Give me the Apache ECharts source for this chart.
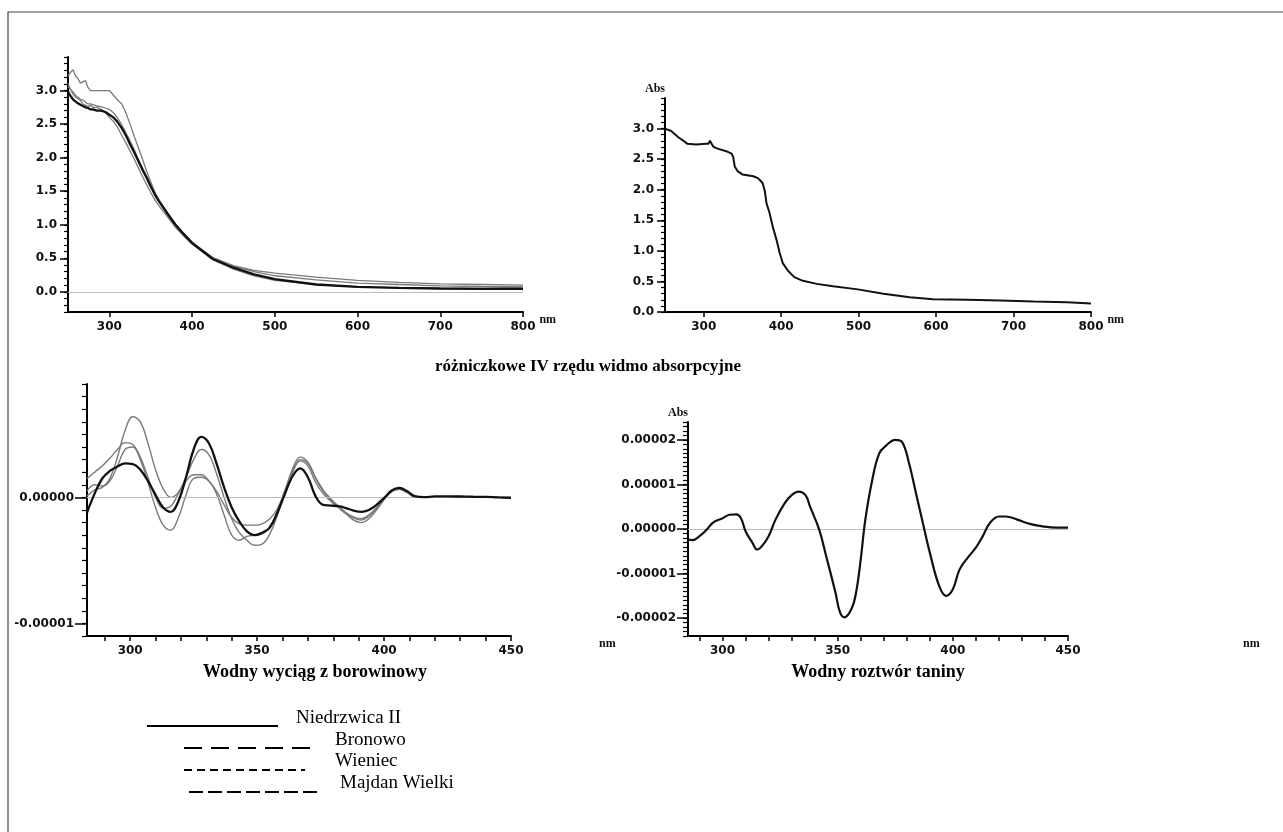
<!DOCTYPE html>
<html><head><meta charset="utf-8">
<script src="https://cdn.jsdelivr.net/npm/echarts@6/dist/echarts.min.js"></script>
<style>html,body{margin:0;padding:0;background:#fff}#c{width:1283px;height:832px}</style>
</head><body><div id="c"></div>
<script>
// ---------- data ----------
const seriesNames = ['Niedrzwica II', 'Bronowo', 'Wieniec', 'Majdan Wielki'];

// Panel A: absorption spectra of peat extracts (nm / Abs)
const wlA = [250,253,256,259,262,265,268,271,274,277, 280,285,290,295,300,305,310,315,320,325, 330,335,340,345,350,355,360,370,380,390, 400,425,450,475,500,550,600,650,700,750, 800];
const absA_Niedrzwica = [2.99,2.92,2.87,2.84,2.81,2.79,2.77,2.75,2.74,2.72, 2.72,2.70,2.70,2.68,2.64,2.60,2.53,2.44,2.33,2.20, 2.08,1.95,1.82,1.70,1.57,1.45,1.35,1.17,1.00,0.86, 0.73,0.49,0.36,0.26,0.19,0.11,0.075,0.06,0.05,0.045, 0.045];
const absA_Bronowo = [3.22,3.27,3.31,3.22,3.18,3.11,3.13,3.15,3.05,3.00, 3.00,3.00,3.00,3.00,3.00,2.93,2.86,2.80,2.67,2.50, 2.32,2.15,1.98,1.80,1.64,1.49,1.37,1.15,0.97,0.84, 0.72,0.51,0.39,0.32,0.28,0.22,0.17,0.14,0.12,0.11, 0.10];
const absA_Wieniec = [3.06,3.02,2.98,2.93,2.90,2.87,2.86,2.83,2.80,2.80, 2.79,2.77,2.76,2.74,2.72,2.67,2.59,2.49,2.37,2.25, 2.12,1.98,1.85,1.73,1.60,1.47,1.37,1.19,1.01,0.87, 0.74,0.51,0.38,0.30,0.24,0.18,0.13,0.11,0.09,0.08, 0.075];
const absA_Majdan = [3.11,3.02,2.95,2.90,2.88,2.85,2.80,2.78,2.76,2.78, 2.75,2.75,2.72,2.68,2.60,2.54,2.45,2.33,2.22,2.10, 1.98,1.85,1.72,1.60,1.48,1.37,1.28,1.12,0.96,0.83, 0.71,0.48,0.34,0.24,0.17,0.11,0.075,0.06,0.05,0.05, 0.07];

// Panel B: absorption spectrum of tannin solution
const wlB = [250,258,268,275,279,290,303,306,308,310, 312,316,329,336,338,340,344,350,364,370, 376,379,381,385,389,394,398,402,409,417, 428,446,467,499,532,566,596,640,683,726, 769,800];
const absB_Tannin = [3.0,2.96,2.85,2.79,2.75,2.74,2.75,2.75,2.8,2.77, 2.71,2.68,2.63,2.59,2.54,2.38,2.3,2.25,2.22,2.19, 2.11,1.97,1.78,1.62,1.4,1.18,0.97,0.8,0.67,0.57, 0.51,0.46,0.42,0.37,0.3,0.24,0.21,0.2,0.19,0.17, 0.16,0.14];

// Panel C: 4th-derivative spectra of peat extracts (values in 1e-6 Abs)
const wlC = [283,286,289,292,295,298,301,304,307,310, 313,316,319,322,325,328,331,334,337,340, 343,346,349,352,355,358,361,364,367,370, 373,376,379,382,385,388,391,394,397,400, 403,406,409,412,416,420,425,430,435,440, 445,450];
const d4C_Niedrzwica = [-1.2,0.3,1.5,2.1,2.45,2.7,2.65,2.2,1.3,0.2, -0.8,-1.15,-0.3,1.6,3.8,4.8,4.3,2.7,0.8,-0.8, -1.9,-2.7,-3.0,-2.8,-2.4,-1.2,0.3,1.7,2.3,1.6, 0.1,-0.6,-0.65,-0.7,-0.85,-1.05,-1.15,-1.0,-0.6,-0.05, 0.55,0.75,0.5,0.1,0.02,0.08,0.08,0.07,0.05,0.04, 0.0,-0.03];
const d4C_Bronowo = [0.1,0.6,0.8,1.5,3.2,5.3,6.4,6.0,4.3,2.2, 0.7,0.0,0.4,1.6,3.0,3.8,3.4,1.9,0.0,-1.7, -2.8,-3.4,-3.8,-3.7,-2.9,-1.4,0.5,2.3,3.2,2.8, 1.6,0.6,-0.1,-0.7,-1.3,-1.8,-2.0,-1.7,-1.0,-0.2, 0.45,0.65,0.4,0.05,0.02,0.05,0.05,0.04,0.03,0.02, 0.0,0.0];
const d4C_Wieniec = [1.5,2.0,2.5,3.1,3.8,4.35,4.2,3.2,1.6,0.0, -0.85,-0.7,0.3,1.3,1.8,1.8,1.3,0.5,-0.6,-1.6, -2.1,-2.2,-2.2,-2.1,-1.7,-0.9,0.6,2.1,3.0,2.7, 1.5,0.5,-0.2,-0.7,-1.2,-1.55,-1.7,-1.4,-0.8,-0.1, 0.5,0.7,0.45,0.05,0.02,0.05,0.05,0.04,0.03,0.02, 0.0,0.0];
const d4C_Majdan = [0.5,1.0,0.9,1.3,2.5,3.8,4.0,3.0,1.2,-0.8, -2.2,-2.6,-1.6,0.2,1.5,1.6,1.3,0.3,-1.4,-3.0, -3.4,-3.1,-3.0,-2.9,-2.3,-1.1,0.5,2.0,2.9,2.5, 1.2,0.3,-0.3,-0.8,-1.3,-1.65,-1.8,-1.5,-0.9,-0.15, 0.5,0.65,0.4,0.05,0.02,0.05,0.05,0.04,0.03,0.02, 0.0,0.0];

// Panel D: 4th-derivative spectrum of tannin solution (values in 1e-6 Abs)
const wlD = [285,287,290,293,296,300,303,306,308,310, 313,315,317,320,323,327,330,333,336,338, 342,345,349,351,353,356,358,360,362,365, 368,371,375,378,381,384,387,390,394,397, 400,403,407,410,413,416,420,423,428,433, 439,445,450];
const d4D_Tannin = [-2.4,-2.5,-1.6,-0.2,1.5,2.4,3.2,3.3,2.4,-0.5, -3.1,-4.6,-3.9,-1.6,2.1,5.8,7.6,8.4,7.6,5.0, -0.2,-6.1,-14.2,-18.7,-19.8,-17.9,-14.2,-6.8,2.1,11.0, 16.9,18.7,20.0,19.5,14.7,8.0,1.3,-5.3,-12.7,-15.0, -13.5,-9.0,-6.1,-4.2,-1.6,1.3,2.8,2.8,2.1,1.2, 0.6,0.3,0.3];

// tick positions / labels
const ticksA_x = [300,400,500,600,700,800];
const ticksA_y = [0,0.5,1.0,1.5,2.0,2.5,3.0];
const ticksC_x = [290,300,310,320,330,340,350,360,370,380,390,400,410,420,430,440,450];
const labelsC_x = [300,350,400,450];
const labelsC_y = [-10,0];
const labelsD_y = [-20,-10,0,10,20];

const mainTitle = 'różniczkowe IV rzędu widmo absorpcyjne';
const subTitleLeft = 'Wodny wyciąg z borowinowy';
const subTitleRight = 'Wodny roztwór taniny';

// ---------- helpers ----------
const pairs = (xs, ys) => xs.map((x, i) => [x, ys[i]]);
const lblFont = {fontFamily: 'DejaVu Sans', fontWeight: 'bold', fontSize: 12, color: '#111'};
const nameFont = {fontFamily: 'Liberation Serif', fontWeight: 'bold', fontSize: 12, color: '#111'};

function xAx(grid, min, max, ticks, labels, fmt, nameGap) {
  return {
    type: 'value', gridIndex: grid, min, max, position: 'bottom',
    axisLine: {show: true, onZero: false, lineStyle: {color: '#000', width: 2}},
    axisTick: {show: true, customValues: ticks, length: 5, lineStyle: {color: '#000', width: 1.5}},
    axisLabel: Object.assign({show: true, customValues: labels, margin: 9, formatter: fmt}, lblFont),
    splitLine: {show: false},
    name: 'nm', nameLocation: 'end', nameGap,
    nameTextStyle: Object.assign({verticalAlign: 'top', padding: [2, 0, 0, 0]}, nameFont)
  };
}
function yMajor(grid, min, max, labels, fmt, tickLen, margin, abs) {
  return {
    type: 'value', gridIndex: grid, min, max, position: 'left',
    axisLine: {show: true, onZero: false, lineStyle: {color: '#000', width: 2}},
    axisTick: {show: true, customValues: labels, length: tickLen, lineStyle: {color: '#000', width: 1.5}},
    axisLabel: Object.assign({show: true, customValues: labels, margin, formatter: fmt}, lblFont),
    splitLine: {show: false},
    name: abs ? 'Abs' : '', nameLocation: 'end', nameGap: 3,
    nameTextStyle: Object.assign({align: 'right'}, nameFont)
  };
}
function yMinor(grid, min, max, step, len) {
  return {
    type: 'value', gridIndex: grid, min, max, interval: step, position: 'left', offset: 0,
    axisLine: {show: false, onZero: false},
    axisTick: {show: true, length: len, lineStyle: {color: '#000', width: 1.2}},
    axisLabel: {show: false}, splitLine: {show: false}
  };
}
const zeroLine = {silent: true, symbol: 'none', label: {show: false},
  lineStyle: {color: '#bdbdbd', width: 1.2, type: 'solid'}, data: [{yAxis: 0}]};

function line(name, xi, yi, xs, ys, color, width, smooth, mark) {
  const s = {name, type: 'line', xAxisIndex: xi, yAxisIndex: yi, data: pairs(xs, ys),
    showSymbol: false, symbol: 'none', smooth, animation: false,
    lineStyle: {color, width}, z: color === '#111' ? 5 : 3};
  if (mark) s.markLine = zeroLine;
  return s;
}
const GRAY = '#7a7a7a', BLACK = '#111';

const fmt1 = v => v.toFixed(1);
const fmtE = v => (v * 1e-6).toFixed(5);
const fmtI = v => String(v);

const option = {
  backgroundColor: '#fff',
  animation: false,
  grid: [
    {left: 68, top: 57, width: 455, height: 255, outerBoundsMode: 'none'},
    {left: 665, top: 98, width: 426, height: 214, outerBoundsMode: 'none'},
    {left: 87, top: 384, width: 424, height: 252, outerBoundsMode: 'none'},
    {left: 688, top: 422, width: 380, height: 214, outerBoundsMode: 'none'}
  ],
  xAxis: [
    xAx(0, 250, 800, ticksA_x, ticksA_x, fmtI, 16),
    xAx(1, 250, 800, ticksA_x, ticksA_x, fmtI, 14),
    xAx(2, 283, 450, ticksC_x, labelsC_x, fmtI, 88),
    xAx(3, 285, 450, ticksC_x, labelsC_x, fmtI, 175)
  ],
  yAxis: [
    yMajor(0, -0.3, 3.5, ticksA_y, fmt1, 8, 11, false),
    yMinor(0, -0.3, 3.5, 0.1, 4),
    yMajor(1, 0, 3.5, ticksA_y, fmt1, 8, 11, true),
    yMinor(1, 0, 3.5, 0.1, 4),
    yMajor(2, -11, 9, labelsC_y, fmtE, 12, 13, false),
    yMinor(2, -11, 9, 1, 5),
    yMajor(3, -24, 24, labelsD_y, fmtE, 11, 12, true),
    yMinor(3, -24, 24, 1, 5)
  ],
  series: [
    line(seriesNames[1], 0, 0, wlA, absA_Bronowo, GRAY, 1.3, false, true),
    line(seriesNames[2], 0, 0, wlA, absA_Wieniec, GRAY, 1.3, false, false),
    line(seriesNames[3], 0, 0, wlA, absA_Majdan, GRAY, 1.3, false, false),
    line(seriesNames[0], 0, 0, wlA, absA_Niedrzwica, BLACK, 2.3, false, false),
    line('tanina', 1, 2, wlB, absB_Tannin, BLACK, 2, false, false),
    line(seriesNames[1], 2, 4, wlC, d4C_Bronowo, GRAY, 1.4, 0.4, true),
    line(seriesNames[2], 2, 4, wlC, d4C_Wieniec, GRAY, 1.4, 0.4, false),
    line(seriesNames[3], 2, 4, wlC, d4C_Majdan, GRAY, 1.4, 0.4, false),
    line(seriesNames[0], 2, 4, wlC, d4C_Niedrzwica, BLACK, 2.3, 0.4, false),
    line('tanina', 3, 6, wlD, d4D_Tannin, BLACK, 2.2, 0.4, true)
  ],
  graphic: [
    {type: 'rect', shape: {x: 8, y: 12, width: 1400, height: 1000}, style: {fill: 'none', stroke: '#444', lineWidth: 1.2}, silent: true},
    {type: 'text', x: 588, y: 367, style: {text: mainTitle, align: 'center', verticalAlign: 'middle', font: 'bold 17px "Liberation Serif"', fill: '#000'}},
    {type: 'text', x: 315, y: 672, style: {text: subTitleLeft, align: 'center', verticalAlign: 'middle', font: 'bold 18px "Liberation Serif"', fill: '#000'}},
    {type: 'text', x: 878, y: 672, style: {text: subTitleRight, align: 'center', verticalAlign: 'middle', font: 'bold 18px "Liberation Serif"', fill: '#000'}},
    {type: 'line', shape: {x1: 147, y1: 726, x2: 278, y2: 726}, style: {stroke: '#000', lineWidth: 2}},
    {type: 'line', shape: {x1: 184, y1: 748, x2: 316, y2: 748}, style: {stroke: '#000', lineWidth: 2, lineDash: [18, 9]}},
    {type: 'line', shape: {x1: 184, y1: 770, x2: 305, y2: 770}, style: {stroke: '#000', lineWidth: 2, lineDash: [8, 5]}},
    {type: 'line', shape: {x1: 189, y1: 792, x2: 321, y2: 792}, style: {stroke: '#000', lineWidth: 2, lineDash: [14, 5]}},
    {type: 'text', x: 296, y: 718, style: {text: seriesNames[0], verticalAlign: 'middle', font: '19px "Liberation Serif"', fill: '#000'}},
    {type: 'text', x: 335, y: 740, style: {text: seriesNames[1], verticalAlign: 'middle', font: '19px "Liberation Serif"', fill: '#000'}},
    {type: 'text', x: 335, y: 761, style: {text: seriesNames[2], verticalAlign: 'middle', font: '19px "Liberation Serif"', fill: '#000'}},
    {type: 'text', x: 340, y: 783, style: {text: seriesNames[3], verticalAlign: 'middle', font: '19px "Liberation Serif"', fill: '#000'}}
  ]
};
const chart = echarts.init(document.getElementById('c'), null, {renderer: 'canvas'});
chart.setOption(option);
</script>
</body></html>
